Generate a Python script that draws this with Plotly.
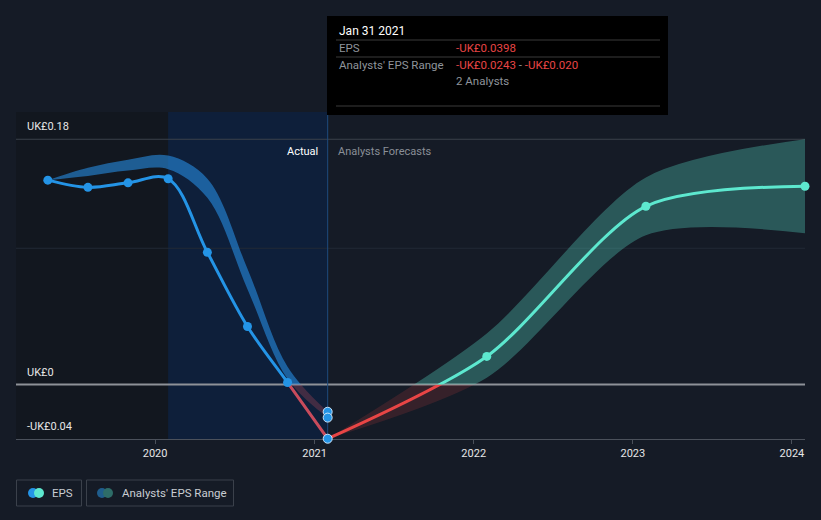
import plotly.graph_objects as go

# ---------------- data ----------------
act_dates = ["2019-04-30", "2019-07-31", "2019-10-31", "2020-01-31",
             "2020-04-30", "2020-07-31", "2020-10-31", "2021-01-31"]
act_eps = [0.150, 0.1447, 0.148, 0.151, 0.097, 0.0426, 0.0015, -0.0398]
hist_high = [0.150, 0.159, 0.165, 0.168, 0.151, 0.085, 0.013, -0.020]
hist_low = [0.150, 0.153, 0.157, 0.158, 0.137, 0.070, 0.004, -0.0243]

fc_dates = ["2021-01-31", "2022-01-31", "2023-01-31", "2024-01-31"]
fc_eps = [-0.0398, 0.0206, 0.1308, 0.1455]
fc_high = [-0.0398, 0.0375, 0.152, 0.180]
fc_low = [-0.0398, 0.005, 0.1095, 0.111]

est_date = "2021-01-31"
est_range = [-0.0243, -0.020]
n_analysts = 2

year_ticks = ["2020-01-01", "2021-01-01", "2022-01-01", "2023-01-01", "2024-01-01"]
year_labels = ["2020", "2021", "2022", "2023", "2024"]
y_label_vals = [0.18, 0.0, -0.04]
y_label_text = ["UK£0.18", "UK£0", "-UK£0.04"]
grid_vals = [0.18, 0.10]

# ---------------- layout geometry ----------------
W, H = 821, 520
ML, MR, MT, MB = 16, 16, 112, 81
PW = W - ML - MR
PH = H - MT - MB
Y_MIN, Y_MAX = -0.04, 0.20
X_RANGE = ["2019-02-16", "2024-01-31"]
d0 = (0 - Y_MIN) / (Y_MAX - Y_MIN)


def px(x):
    return (x - ML) / PW


def py(y):
    return (H - MB - y) / PH


BG = "#151b26"
BLUE = "#2494e6"
TEAL = "#5de8cf"
RED = "#e84545"
PINK = "#c84b5c"
FONT = "Roboto, Open Sans, sans-serif"
LW = 3
SM_H = 1.0
SM_F = 0.8

fig = go.Figure()


def band(x, lo, hi, yaxis, color, sm):
    fig.add_trace(go.Scatter(x=x, y=lo, xaxis="x", yaxis=yaxis, mode="lines",
                             line=dict(width=0, shape="spline", smoothing=sm), showlegend=False))
    fig.add_trace(go.Scatter(x=x, y=hi, xaxis="x", yaxis=yaxis, mode="lines",
                             line=dict(width=0, shape="spline", smoothing=sm), fill="tonexty",
                             fillcolor=color, showlegend=False))


def line(x, y, yaxis, color, sm):
    fig.add_trace(go.Scatter(x=x, y=y, xaxis="x", yaxis=yaxis, mode="lines",
                             line=dict(width=LW, shape="spline", smoothing=sm, color=color),
                             showlegend=False))


# ---- below-zero part (y2, clipped) ----
band(act_dates, hist_low, hist_high, "y2", "rgba(201,80,95,0.28)", SM_H)
band(fc_dates, fc_low, fc_high, "y2", "rgba(232,69,69,0.16)", SM_F)
line(act_dates, act_eps, "y2", PINK, SM_H)
line(fc_dates, fc_eps, "y2", RED, SM_F)

# ---- above-zero part (y3, clipped) ----
band(act_dates, hist_low, hist_high, "y3", "rgba(38,140,225,0.6)", SM_H)
band(fc_dates, fc_low, fc_high, "y3", "rgba(94,232,208,0.30)", SM_F)
line(act_dates, act_eps, "y3", BLUE, SM_H)
line(fc_dates, fc_eps, "y3", TEAL, SM_F)

# ---- markers on top (x2/y4) ----
fig.add_trace(go.Scatter(x=act_dates[:-1], y=act_eps[:-1], xaxis="x2", yaxis="y4", mode="markers",
                         marker=dict(size=9, color=BLUE), cliponaxis=False, showlegend=False))
fig.add_trace(go.Scatter(x=fc_dates[1:], y=fc_eps[1:], xaxis="x2", yaxis="y4", mode="markers",
                         marker=dict(size=9, color=TEAL), cliponaxis=False, showlegend=False))
fig.add_trace(go.Scatter(x=[est_date, est_date, act_dates[-1]],
                         y=[est_range[1], est_range[0], act_eps[-1]],
                         xaxis="x2", yaxis="y4", mode="markers",
                         marker=dict(size=9, color=BLUE, line=dict(color="rgba(220,238,255,0.9)", width=1)),
                         cliponaxis=False, showlegend=False))

shapes = []
shapes.append(dict(type="rect", xref="x", yref="paper", x0=X_RANGE[0], x1=act_dates[3],
                   y0=0, y1=1, fillcolor="#12171f", line=dict(width=0), layer="below"))
shapes.append(dict(type="rect", xref="x", yref="paper", x0=act_dates[3], x1=est_date,
                   y0=0, y1=1, fillcolor="#0e1f3a", line=dict(width=0), layer="below"))
shapes.append(dict(type="line", xref="paper", yref="y4", x0=0, x1=1, y0=grid_vals[0], y1=grid_vals[0],
                   line=dict(color="#3b414b", width=1), layer="below"))
shapes.append(dict(type="line", xref="paper", yref="y4", x0=0, x1=1, y0=grid_vals[1], y1=grid_vals[1],
                   line=dict(color="#222a36", width=1), layer="below"))
shapes.append(dict(type="line", xref="paper", yref="y4", x0=0, x1=1, y0=0, y1=0,
                   line=dict(color="#8e9298", width=2), layer="below"))
shapes.append(dict(type="line", xref="x", yref="paper", x0=est_date, x1=est_date, y0=0, y1=py(115),
                   line=dict(color="#1d4a7e", width=1), layer="below"))
shapes.append(dict(type="rect", xref="paper", yref="paper", x0=px(327), x1=px(668), y0=py(115), y1=py(16),
                   fillcolor="#000000", line=dict(width=0), layer="above"))
for yy in [40, 57, 106]:
    shapes.append(dict(type="line", xref="paper", yref="paper", x0=px(336), x1=px(660), y0=py(yy), y1=py(yy),
                       line=dict(color="#3a3a3a", width=1), layer="above"))
shapes.append(dict(type="rect", xref="paper", yref="paper", x0=px(16.5), x1=px(81.5), y0=py(506), y1=py(480),
                   line=dict(color="#3b414b", width=1), fillcolor="rgba(0,0,0,0)"))
shapes.append(dict(type="rect", xref="paper", yref="paper", x0=px(86.5), x1=px(233.5), y0=py(506), y1=py(480),
                   line=dict(color="#3b414b", width=1), fillcolor="rgba(0,0,0,0)"))
for cx, col in [(33, BLUE), (39, TEAL), (102, "#1f5d8c"), (108, "#2e6d68")]:
    shapes.append(dict(type="circle", xref="paper", yref="paper", x0=px(cx - 5), x1=px(cx + 5),
                       y0=py(498), y1=py(488), fillcolor=col, line=dict(width=0)))

ann = []
for v, t in zip(y_label_vals, y_label_text):
    ann.append(dict(xref="paper", yref="y4", x=px(25), y=v, text=t, showarrow=False,
                    xanchor="left", yanchor="bottom", yshift=4, font=dict(size=11, color="#e6e6e6")))
ann.append(dict(xref="x", yref="paper", x=est_date, y=py(151), text="Actual", showarrow=False,
                xanchor="right", yanchor="middle", xshift=-8, font=dict(size=11, color="#ffffff")))
ann.append(dict(xref="x", yref="paper", x=est_date, y=py(151), text="Analysts Forecasts", showarrow=False,
                xanchor="left", yanchor="middle", xshift=8, font=dict(size=11, color="#8a8f97")))


def fmt(v, d):
    s = f"UK£{abs(v):.{d}f}"
    return "-" + s if v < 0 else s


tip = [
    (337, 31, "Jan 31 2021", "#ffffff"),
    (337, 48, "EPS", "#8f949b"),
    (454, 48, fmt(act_eps[-1], 4), RED),
    (337, 65, "Analysts' EPS Range", "#8f949b"),
    (454, 65, f"<span style='color:{RED}'>{fmt(est_range[0], 4)}</span> - "
              f"<span style='color:{RED}'>{fmt(est_range[1], 3)}</span>", "#8f949b"),
    (454, 81, f"{n_analysts} Analysts", "#8f949b"),
]
for x, y, t, c in tip:
    ann.append(dict(xref="paper", yref="paper", x=px(x), y=py(y), text=t, showarrow=False,
                    xanchor="left", yanchor="middle", font=dict(size=12 if y == 31 else 11.5, color=c)))
ann.append(dict(xref="paper", yref="paper", x=px(50), y=py(493), text="EPS", showarrow=False,
                xanchor="left", yanchor="middle", font=dict(size=11.5, color="#c9cdd3")))
ann.append(dict(xref="paper", yref="paper", x=px(120), y=py(493), text="Analysts' EPS Range", showarrow=False,
                xanchor="left", yanchor="middle", font=dict(size=11.5, color="#c9cdd3")))

hidden_y = dict(showgrid=False, zeroline=False, showticklabels=False, showline=False, ticks="")

fig.update_layout(
    width=W, height=H,
    margin=dict(l=ML, r=MR, t=MT, b=MB),
    paper_bgcolor=BG, plot_bgcolor="rgba(0,0,0,0)",
    font=dict(family=FONT, color="#e6e6e6"),
    hovermode=False,
    showlegend=False,
    xaxis=dict(type="date", range=X_RANGE, domain=[0, 1], anchor="y2",
               tickvals=year_ticks, ticktext=year_labels, tickfont=dict(size=11, color="#e6e6e6"),
               ticks="outside", ticklen=4, tickcolor="#4b515b",
               showline=True, linecolor="#4b515b", linewidth=1, showgrid=False, zeroline=False),
    xaxis2=dict(type="date", range=X_RANGE, domain=[0, 1], anchor="y4", matches="x", visible=False),
    yaxis2=dict(range=[Y_MIN, 0], domain=[0, d0], anchor="x", **hidden_y),
    yaxis3=dict(range=[0, Y_MAX], domain=[d0, 1], anchor="x", **hidden_y),
    yaxis4=dict(range=[Y_MIN, Y_MAX], domain=[0, 1], anchor="x2", **hidden_y),
    shapes=shapes,
    annotations=ann,
)

fig.write_html("out.html")
